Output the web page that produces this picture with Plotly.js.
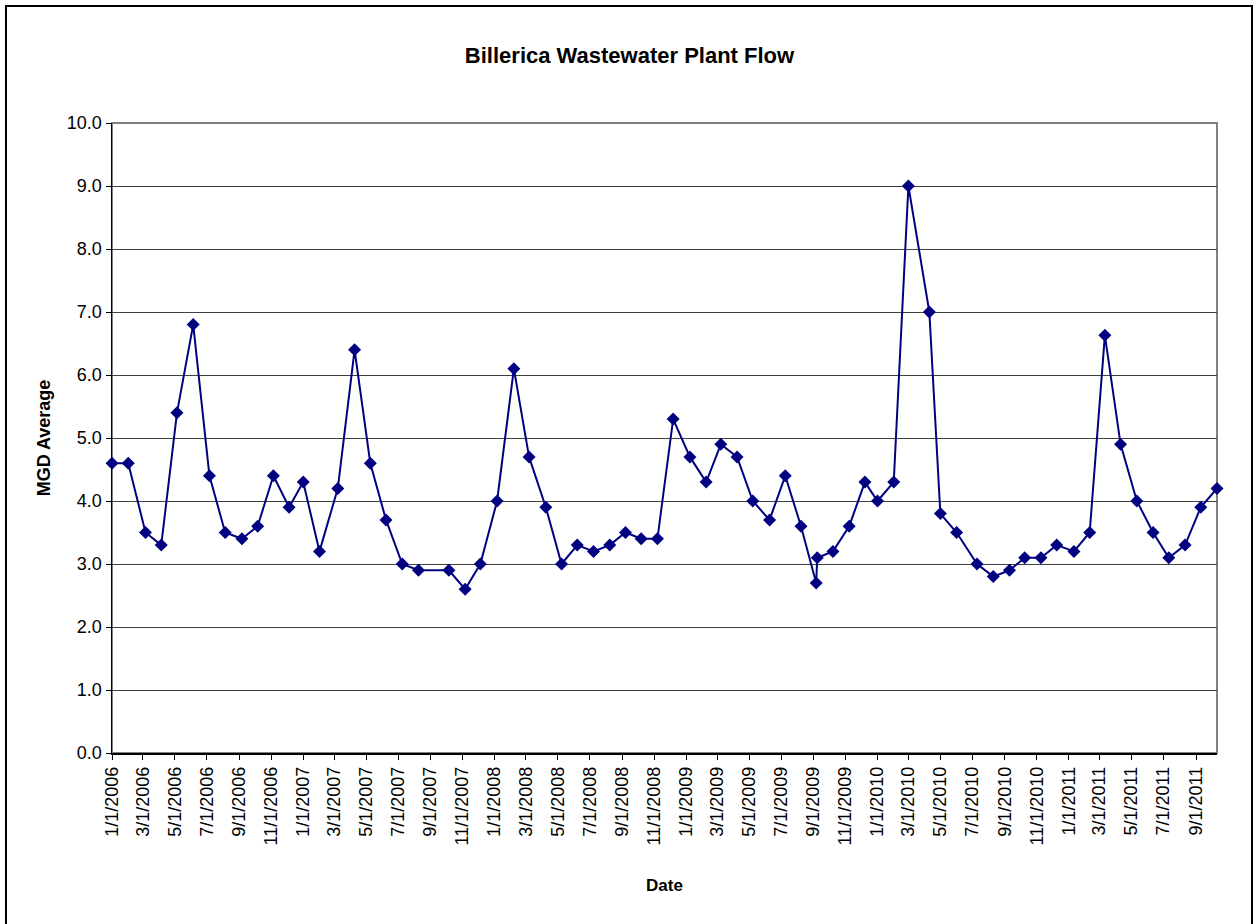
<!DOCTYPE html>
<html>
<head>
<meta charset="utf-8">
<script src="https://cdn.plot.ly/plotly-3.0.1.min.js"></script>
<style>
  html, body { margin: 0; padding: 0; background: #fff; }
  #wrap { position: relative; width: 1259px; height: 924px; overflow: hidden; }
  #chart { position: absolute; left: 0; top: 0; width: 1259px; height: 924px; }
  #frame { position: absolute; left: 5px; top: 5px; width: 1244px; height: 940px; border: 2px solid #000; pointer-events: none; }
</style>
</head>
<body>
<div id="wrap">
  <div id="chart"></div>
  <div id="frame"></div>
</div>
<script>
// Sample dates and MGD average values
const dates = [
  '2006-01-01','2006-02-01','2006-03-06','2006-04-05','2006-05-05','2006-06-05','2006-07-06','2006-08-05','2006-09-06','2006-10-06','2006-11-05','2006-12-05',
  '2007-01-01','2007-02-01','2007-03-08','2007-04-09','2007-05-09','2007-06-08','2007-07-09','2007-08-09','2007-10-06','2007-11-06','2007-12-05',
  '2008-01-06','2008-02-07','2008-03-07','2008-04-08','2008-05-08','2008-06-07','2008-07-08','2008-08-08','2008-09-07','2008-10-07','2008-11-07','2008-12-07',
  '2009-01-08','2009-02-08','2009-03-08','2009-04-08','2009-05-08','2009-06-09','2009-07-09','2009-08-08','2009-09-06','2009-09-08','2009-10-08','2009-11-08','2009-12-08',
  '2010-01-01','2010-02-01','2010-03-01','2010-04-10','2010-05-01','2010-06-01','2010-07-10','2010-08-10','2010-09-10','2010-10-09','2010-11-09','2010-12-09',
  '2011-01-11','2011-02-10','2011-03-11','2011-04-10','2011-05-11','2011-06-11','2011-07-11','2011-08-11','2011-09-10','2011-10-11'
];
const mgd = [
  4.6,4.6,3.5,3.3,5.4,6.8,4.4,3.5,3.4,3.6,4.4,3.9,
  4.3,3.2,4.2,6.4,4.6,3.7,3.0,2.9,2.9,2.6,3.0,
  4.0,6.1,4.7,3.9,3.0,3.3,3.2,3.3,3.5,3.4,3.4,5.3,
  4.7,4.3,4.9,4.7,4.0,3.7,4.4,3.6,2.7,3.1,3.2,3.6,4.3,
  4.0,4.3,9.0,7.0,3.8,3.5,3.0,2.8,2.9,3.1,3.1,3.3,
  3.2,3.5,6.63,4.9,4.0,3.5,3.1,3.3,3.9,4.2
];
const xRange = ['2006-01-01', '2011-10-11'];
const yRange = [0, 10];

const trace = {
  x: dates, y: mgd, type: 'scatter', mode: 'lines+markers',
  line: { color: '#000080', width: 2 },
  marker: { symbol: 'diamond', size: 10, color: '#000080' },
  cliponaxis: false, showlegend: false
};

const layout = {
  width: 1259, height: 924,
  margin: { l: 112, r: 42, t: 123, b: 171 },
  paper_bgcolor: '#fff', plot_bgcolor: '#fff',
  font: { family: 'Arial, Liberation Sans, sans-serif', color: '#000', size: 18 },
  title: { text: '<b>Billerica Wastewater Plant Flow</b>', font: { size: 22, color: '#000' }, x: 0.5, xanchor: 'center', y: 1 - 55/924, yanchor: 'middle' },
  xaxis: {
    type: 'date', range: xRange, tick0: '2006-01-01', dtick: 'M2', tickformat: '%-m/%-d/%Y',
    tickangle: -90, ticks: 'outside', ticklen: 5, tickcolor: '#000', tickwidth: 1,
    showline: true, linecolor: '#000', linewidth: 1.5, showgrid: false, zeroline: false,
    tickfont: { size: 18 }, automargin: false,
    title: { text: '<b>Date</b>', font: { size: 17 }, standoff: 34 }
  },
  yaxis: {
    range: yRange, dtick: 1, tick0: 0, tickformat: '.1f',
    ticks: 'outside', ticklen: 5, tickcolor: '#000', tickwidth: 1,
    showline: true, linecolor: '#000', linewidth: 1.5,
    showgrid: true, gridcolor: '#404040', gridwidth: 1, zeroline: false,
    tickfont: { size: 18 }, automargin: false,
    title: { text: '<b>MGD Average</b>', font: { size: 18 }, standoff: 11 }
  },
  shapes: [{
    type: 'rect', xref: 'paper', yref: 'paper', x0: 0, x1: 1, y0: 0, y1: 1,
    line: { color: '#808080', width: 2 }, layer: 'below'
  }]
};

Plotly.newPlot('chart', [trace], layout, { displayModeBar: false, staticPlot: true });
</script>
</body>
</html>
